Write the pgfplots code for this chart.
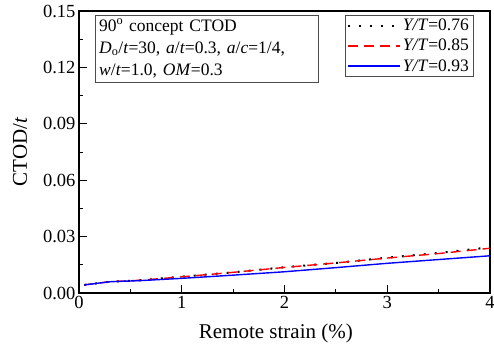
\documentclass[border=0pt]{standalone}
\usepackage{pgfplots}
\pgfplotsset{compat=1.18}
\usepackage{fontspec}
\setmainfont{Liberation Serif}
\begin{document}
\begin{tikzpicture}[x=1pt,y=1pt]
\useasboundingbox (-79pt,-56pt) rectangle (415pt,293pt);
\begin{axis}[
  at={(0pt,0pt)}, anchor=south west,
  scale only axis,
  width=411pt, height=282pt,
  xmin=0, xmax=4, ymin=0, ymax=0.15,
  xtick={0,1,2,3,4}, ytick={0,0.03,0.06,0.09,0.12,0.15},
  minor x tick num=1, minor y tick num=1,
  xtick pos=bottom, ytick pos=left,
  tick align=inside,
  major tick length=8pt, minor tick length=4pt,
  tick style={black, line width=1pt},
  axis line style={line width=1.2pt},
  xticklabel={\pgfmathprintnumber[assume math mode=true]{\tick}},
  yticklabel={\pgfmathprintnumber[assume math mode=true, fixed, fixed zerofill, precision=2]{\tick}},
  ticklabel style={font=\fontsize{18.5}{20}\selectfont},
  scaled y ticks=false,
  xlabel={Remote strain (\%)},
  ylabel={CTOD/\textit{t}},
  label style={font=\fontsize{21}{23}\selectfont},
  xlabel style={at={(axis description cs:0.479,0)}, anchor=center, yshift=-40pt},
  ylabel style={at={(axis description cs:-0.1436,0.5)}, anchor=center},
  legend style={at={(0.9586,0.9858)}, anchor=north east, draw=black!70, font=\fontsize{17.5}{19}\selectfont, inner sep=2pt, row sep=3pt},
  legend cell align=left,
  legend image code/.code={\draw[#1] (0pt,0pt) -- (52pt,0pt);},
]
\addplot[black, dash pattern=on 2pt off 9pt, line width=2pt] coordinates {
(0.05,0.0043) (0.3,0.0060) (0.6,0.0068) (1.0,0.0087) (1.5,0.0110) (2.0,0.0137) (2.5,0.0160) (3.0,0.0188) (3.5,0.0213) (4.0,0.0243)};
\addlegendentry{\textit{Y/T}=0.76}
\addplot[red, dash pattern=on 10pt off 6pt, line width=1.4pt] coordinates {
(0.05,0.0043) (0.3,0.0060) (0.6,0.0068) (1.0,0.0086) (1.5,0.0110) (2.0,0.0136) (2.5,0.0160) (3.0,0.0186) (3.5,0.0210) (4.0,0.0238)};
\addlegendentry{\textit{Y/T}=0.85}
\addplot[blue, line width=1.4pt] coordinates {
(0.05,0.0043) (0.3,0.0060) (0.6,0.0066) (1.0,0.0078) (1.5,0.0095) (2.0,0.0113) (2.5,0.0135) (3.0,0.0158) (3.5,0.0178) (4.0,0.0198)};
\addlegendentry{\textit{Y/T}=0.93}
\node[draw=black!70, anchor=north west, align=left, font=\fontsize{17.5}{22}\selectfont, inner sep=4pt, text width=215pt] at (axis cs:0.156,0.1479)
 {90\textsuperscript{o} concept CTOD\\
  \textit{D}$_{\mathrm{o}}$/\textit{t}=30, \textit{a}/\textit{t}=0.3, \textit{a}/\textit{c}=1/4,\\
  \textit{w}/\textit{t}=1.0, \textit{OM}=0.3};
\end{axis}
\end{tikzpicture}
\end{document}
